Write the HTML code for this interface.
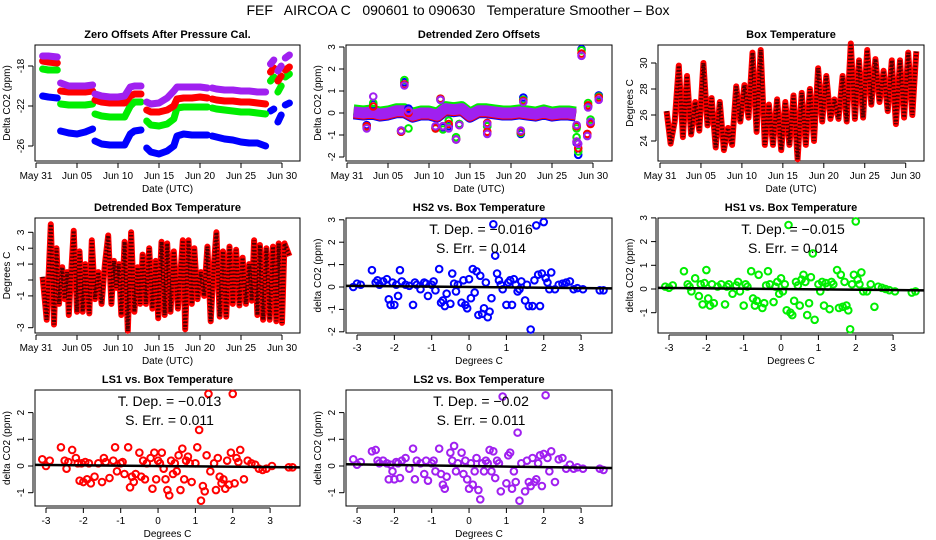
<!DOCTYPE html>
<html><head><meta charset="utf-8"><style>
html,body{margin:0;padding:0;background:#fff}
svg{display:block;font-family:"Liberation Sans",sans-serif}
</style></head><body>
<svg id="chart" width="936" height="540" viewBox="0 0 936 540" xmlns="http://www.w3.org/2000/svg">
<text x="458" y="15" font-size="14" text-anchor="middle" xml:space="preserve">FEF   AIRCOA C   090601 to 090630   Temperature Smoother – Box</text>
</svg>
<script>
// ---------- data ----------
const dateTicks=[0,5,10,15,20,25,30];
const dateLabels=["May 31","Jun 05","Jun 10","Jun 15","Jun 20","Jun 25","Jun 30"];
const zTimes=[0.8,1.5,2.6,null,3.0,4,5,6,6.9,null,7.2,8,9,10,10.8,11.5,12,12.8,null,13.5,14,15,16,16.8,17.2,18,19,20,20.9,null,21.5,22,23,24,25,26,27,28.0,null,28.6,29.0,null,29.5,29.9,null,30.4,30.9];
const zHS2=[-21,-21.1,-21.2,null,-24.5,-24.7,-24.8,-24.6,-24.3,null,-25.5,-25.8,-25.9,-25.9,-25.9,-24.8,-24.5,-24.4,null,-26.2,-26.6,-26.8,-26.5,-26.0,-25.0,-24.8,-24.9,-24.9,-24.9,null,-25.0,-25.1,-25.3,-25.4,-25.6,-25.7,-25.7,-26.0,null,-22.5,-22.3,null,-23.6,-22.9,null,-21.9,-21.7];
const zHS1=[-18.3,-18.4,-18.4,null,-21.8,-21.9,-21.9,-21.9,-21.8,null,-22.8,-23.0,-23.1,-23.1,-23.1,-22.0,-21.6,-21.6,null,-23.5,-23.9,-24.0,-23.8,-23.3,-22.2,-22.1,-22.1,-22.1,-22.1,null,-22.2,-22.3,-22.4,-22.5,-22.6,-22.6,-22.7,-22.8,null,-19.5,-19.1,null,-20.6,-20.0,null,-19.1,-18.8];
const zLS1=[-17.5,-17.6,-17.7,null,-20.5,-20.6,-20.6,-20.6,-20.5,null,-21.4,-21.6,-21.7,-21.7,-21.7,-21.0,-20.8,-20.8,null,-22.4,-22.6,-22.6,-22.4,-22.0,-21.3,-21.2,-21.2,-21.1,-21.2,null,-21.3,-21.4,-21.5,-21.5,-21.6,-21.6,-21.7,-21.8,null,-18.6,-18.2,null,-19.5,-19.0,null,-18.4,-18.1];
const zLS2=[-17.0,-17.0,-17.1,null,-19.7,-20.0,-20.0,-20.0,-19.9,null,-20.8,-21.0,-21.1,-21.1,-21.0,-20.1,-20.0,-20.0,null,-21.6,-21.8,-21.7,-21.2,-20.5,-20.1,-20.1,-20.1,-20.1,-20.2,null,-20.2,-20.3,-20.4,-20.4,-20.5,-20.5,-20.6,-20.6,null,-17.8,-17.4,null,-18.5,-18.0,null,-17.2,-16.9];
const dTimes=[0.8,2,3,4,5,6,7,8,9,10,11,12,13,14,15,16,17,18,19,20,21,22,23,24,25,26,27,27.9];
const dBand=[0.05,0.0,0.05,-0.05,0.0,0.1,0.1,-0.1,0.0,0.0,-0.1,0.2,0.15,0.2,-0.1,0.1,0.1,0.05,0.0,0.0,0.05,0.0,-0.05,0.05,-0.05,0.0,0.0,-0.05];
const spikeTimes=[2.4,3.2,6.6,7.0,7.5,10.8,11.4,11.7,12.4,13.3,13.7,17.1,17.1,21.2,21.5,28.0,28.2,28.0,28.6,29.3,29.7,30.7,29.4];
const spikeHS2=[-0.55,0.4,-0.8,1.4,0.2,-0.65,0.6,-0.65,-0.6,-1.2,-0.5,-0.9,-0.6,-0.95,0.7,-1.35,-1.9,-0.6,2.9,-1.0,-0.45,0.8,0.3];
const spikeHS1=[-0.65,0.45,-0.85,1.5,-0.7,-0.7,0.65,-0.75,-0.35,-1.1,-0.5,-0.9,-0.6,-0.9,0.6,-1.1,-1.75,-0.7,2.85,-1.0,-0.3,0.75,0.45];
const spikeLS1=[-0.6,0.3,-0.85,1.3,0.0,-0.7,0.65,-0.6,-0.5,-1.2,-0.55,-0.85,-0.45,-0.85,0.55,-1.3,-1.6,-0.6,2.7,-0.95,-0.5,0.7,0.35];
const spikeLS2=[-0.7,0.75,-0.8,1.25,0.1,-0.6,0.6,-0.6,-0.7,-1.2,-0.55,-0.95,-0.5,-0.8,0.5,-1.3,-1.4,-0.55,2.6,-1.05,-0.4,0.6,0.25];
const boxT0=0.8, boxDt=0.5;
const boxTemp=[26.3,23.8,25.5,29.8,24.3,29.0,24.5,27.0,24.8,30.0,25.2,27.3,23.5,27.0,23.3,25.0,23.7,28.2,25.5,28.3,25.8,30.8,24.7,31.0,23.7,26.8,23.7,27.2,23.3,27.0,23.7,27.5,22.6,27.7,23.7,28.0,24.0,29.6,25.5,29.0,25.7,27.2,25.7,29.0,25.5,31.5,25.7,30.2,25.8,31.0,26.8,30.3,27.0,29.4,26.3,30.2,25.3,30.2,25.8,30.8,26.0,30.9];
const dbTimes=[0.8,1.3,1.6,1.8,2.2,2.5,2.8,3.2,3.5,3.8,4.0,4.3,4.6,5.0,5.3,5.7,6.0,6.5,6.8,7.2,7.6,8.0,8.4,8.8,9.2,9.5,9.8,10.1,10.4,10.8,11.2,11.6,12.0,12.4,12.7,13.0,13.4,13.8,14.2,14.6,14.9,15.3,15.7,16.0,16.4,16.8,17.3,17.9,18.2,18.6,19.0,19.3,19.7,20.1,20.5,20.9,21.3,21.7,22.0,22.4,22.8,23.2,23.6,24.0,24.4,24.8,25.2,25.6,26.0,26.3,26.6,27.0,27.3,27.7,28.1,28.5,28.9,29.3,29.6,29.8,30.0,30.3,30.9];
const dbVals=[0.2,-2.5,1.0,3.5,-2.8,2.0,-1.5,0.8,-1.2,0.5,-2.2,0.6,3.1,-2.0,1.8,-2.0,1.0,-2.1,2.5,-1.2,0.5,-1.5,1.0,2.8,-1.5,1.2,-0.5,1.0,-2.2,2.4,-3.2,3.0,-2.0,0.8,-1.5,1.6,-1.5,2.0,-1.8,1.2,-2.4,2.4,-2.2,2.3,-2.0,1.8,-1.8,2.5,-3.1,2.5,-1.5,2.0,-1.2,0.5,-1.0,2.1,-2.6,1.0,3.0,-2.3,1.8,-2.3,2.1,-1.5,1.9,-1.6,1.4,-1.5,1.0,-1.3,2.5,-2.2,2.2,-2.5,2.0,-2.5,2.1,-2.6,2.3,-0.8,-2.7,2.3,1.5];
const xTemp=[-3.1,-3.0,-2.9,-2.6,-2.5,-2.45,-2.4,-2.3,-2.2,-2.15,-2.1,-2.05,-2.0,-1.95,-1.9,-1.85,-1.8,-1.7,-1.6,-1.5,-1.45,-1.4,-1.3,-1.2,-1.15,-1.1,-1.0,-0.95,-0.9,-0.8,-0.75,-0.7,-0.65,-0.6,-0.5,-0.45,-0.4,-0.35,-0.3,-0.2,-0.15,-0.1,-0.05,0.0,0.05,0.1,0.15,0.2,0.25,0.3,0.35,0.4,0.45,0.5,0.55,0.6,0.65,0.7,0.75,0.8,0.85,0.9,1.0,1.05,1.1,1.15,1.2,1.25,1.3,1.35,1.4,1.5,1.55,1.6,1.65,1.7,1.75,1.8,1.85,1.9,1.95,2.0,2.05,2.1,2.15,2.2,2.3,2.4,2.5,2.6,2.7,2.8,2.9,3.05,3.5,3.6];
const yHS2=[0.0,0.15,0.1,0.75,0.2,0.3,0.1,0.25,0.35,-0.55,-0.8,0.2,-0.8,0.1,-0.4,0.75,0.25,0.1,0.05,-0.8,0.2,0.1,-0.1,0.2,0.15,-0.4,0.1,0.25,-0.15,0.8,-0.7,-0.6,-0.85,-0.3,-0.75,0.6,0.15,-0.2,0.1,-0.7,0.3,-0.8,-0.95,0.35,-0.5,0.8,-0.25,0.7,-1.25,0.5,-1.2,-0.95,0.2,-1.35,-1.1,-0.5,2.8,1.4,0.6,0.3,0.1,-0.1,-0.8,0.2,0.3,-0.8,0.35,0.1,-0.2,-0.1,0.25,-0.6,0.1,-0.85,-1.9,-0.85,0.3,2.75,0.55,-0.85,0.6,2.9,0.4,0.2,-0.1,0.65,-0.1,0.1,0.15,0.2,0.25,-0.1,-0.05,-0.1,-0.15,-0.15];
const yHS1=[0.1,0.05,0.15,0.75,0.2,0.1,-0.1,0.45,-0.3,0.2,-0.65,0.25,0.8,-0.4,-0.7,0.2,-0.6,0.1,0.2,-0.65,0.1,0.2,-0.2,0.15,0.3,-0.1,-0.7,0.2,0.1,0.75,-0.4,-0.7,-0.5,0.6,-0.8,-0.6,0.15,0.75,0.2,-0.55,0.1,0.3,-0.2,0.45,-0.1,0.2,-0.9,2.7,-1.0,-1.1,-0.5,0.3,0.15,-0.7,0.4,0.6,0.3,-1.1,-0.6,0.5,1.5,-1.3,0.2,-0.1,0.3,-0.7,0.25,0.1,-0.85,0.3,0.2,0.8,-0.8,0.6,-0.75,0.3,-0.7,-0.9,-1.7,0.2,0.6,2.85,0.4,0.2,0.7,-0.1,-0.1,0.2,-0.75,0.1,0.05,0.0,-0.05,-0.1,-0.15,-0.1];
const yLS1=[0.25,0.0,0.2,0.7,0.2,-0.1,0.15,0.6,0.3,0.1,-0.55,0.1,-0.6,0.15,-0.5,0.1,-0.65,-0.4,0.1,-0.6,0.3,0.15,-0.45,0.2,0.7,-0.2,0.1,0.15,-0.3,0.7,-0.8,-0.4,-0.6,-0.3,0.5,-0.4,0.2,-0.5,0.1,0.3,-0.85,0.5,-0.5,0.2,0.1,0.5,-0.1,-0.5,-0.9,-1.1,0.2,-0.3,0.1,-0.2,0.4,-0.9,0.65,-0.5,0.2,0.35,0.1,-0.6,0.1,0.7,1.35,-1.3,-0.75,-0.95,0.4,2.7,-0.2,0.1,-0.9,0.3,-0.4,-0.65,-0.5,-0.85,0.2,-0.7,0.5,2.7,-0.65,0.3,0.15,0.6,-0.5,0.2,0.1,0.05,-0.1,-0.15,-0.1,0.0,-0.05,-0.05];
const yLS2=[0.25,0.05,0.15,0.55,0.6,0.2,0.1,0.2,0.1,-0.5,0.05,-0.2,-0.5,0.15,0.1,-0.45,0.2,0.3,-0.1,0.65,-0.5,0.2,0.1,-0.3,0.2,-0.55,0.1,0.2,-0.2,0.65,-0.3,-0.7,-0.85,-0.4,0.5,0.2,0.75,-0.2,0.1,0.5,-0.3,0.2,-0.5,-0.85,0.1,-0.7,-0.2,0.3,-0.9,-1.25,0.1,-0.2,0.2,0.1,0.6,-0.2,0.55,-0.45,0.2,0.1,-0.95,2.6,-0.65,0.4,0.5,-0.85,-0.2,-0.6,1.25,-1.3,0.1,-0.95,0.2,-0.6,-0.75,0.3,-0.6,-0.5,0.1,0.4,-0.75,0.45,2.65,0.3,-0.2,0.55,-0.6,0.25,0.3,-0.1,0.05,-0.1,-0.05,-0.1,-0.1,-0.15];
const slopes=[-0.016,-0.015,-0.013,-0.02];
const errs=[0.014,0.014,0.011,0.011];

// ---------- helpers ----------
const NS="http://www.w3.org/2000/svg";
const svg=document.getElementById('chart');
function mk(tag,attrs,parent){const e=document.createElementNS(NS,tag);for(const k in attrs)e.setAttribute(k,attrs[k]);(parent||svg).appendChild(e);return e;}
const L=[35,346,658],R=[300,612,924],T=[45,218,390],B=[161,333,506];
const tick0=[36,347,660];
function xT(c,t){return tick0[c]+t*8.2;}

function frame(c,r,name,title,xlab,ylab){
  const g=mk('g',{});
  
  
  const rc=mk('rect',{x:L[c],y:T[r],width:R[c]-L[c],height:B[r]-T[r],fill:'none',stroke:'#000','stroke-width':1},g);
  
  
  const tt=mk('text',{x:(L[c]+R[c])/2,y:T[r]-7,'font-size':11,'font-weight':'bold','text-anchor':'middle'},g);
  tt.textContent=title;
  
  
  const xl=mk('text',{x:(L[c]+R[c])/2,y:B[r]+31,'font-size':10,'text-anchor':'middle'},g);
  xl.textContent=xlab;
  
  
  const cy=(T[r]+B[r])/2, lx=L[c]-25;
  const yl=mk('text',{x:lx,y:cy,'font-size':10,'text-anchor':'middle',transform:`rotate(-90 ${lx} ${cy})`},g);
  yl.textContent=ylab;
  
  
  return g;
}
function xAxis(g,r,vals,labels,fx){
  const y=B[r]+2;
  const a=mk('line',{x1:fx(vals[0]),x2:fx(vals[vals.length-1]),y1:y,y2:y,stroke:'#000'},g);
  
  
  vals.forEach((v,i)=>{
    const x=fx(v);
    const tk=mk('line',{x1:x,x2:x,y1:y,y2:y+5,stroke:'#000'},g);
    
    
    const tx=mk('text',{x:x,y:y+16,'font-size':10,'text-anchor':'middle'},g);
    tx.textContent=labels[i];
    
    
  });
}
function yAxis(g,c,vals,labels,fy){
  const x=L[c]-2;
  const a=mk('line',{x1:x,x2:x,y1:fy(vals[0]),y2:fy(vals[vals.length-1]),stroke:'#000'},g);
  
  
  vals.forEach((v,i)=>{
    const y=fy(v);
    const tk=mk('line',{x1:x-5,x2:x,y1:y,y2:y,stroke:'#000'},g);
    
    
    const tx=mk('text',{x:x-9,y:y,'font-size':10,'text-anchor':'middle',transform:`rotate(-90 ${x-9} ${y})`},g);
    tx.textContent=labels[i];
    
    
  });
}
function pathFrom(times,vals,fx,fy){
  let d='',pen=false;
  for(let i=0;i<times.length;i++){
    if(vals[i]===null||times[i]===null){pen=false;continue;}
    d+=(pen?'L':'M')+fx(times[i]).toFixed(1)+' '+fy(vals[i]).toFixed(1)+' ';pen=true;
  }
  return d;
}
function circles(g,xs,ys,fx,fy,color,name){
  for(let i=0;i<xs.length;i++){
    if(xs[i]===null||ys[i]===null)continue;
    const c=mk('circle',{cx:fx(xs[i]),cy:fy(ys[i]),r:3.3,fill:'none',stroke:color,'stroke-width':2},g);
    
    
  }
}
const colHS2='#0000ff',colHS1='#00ee00',colLS1='#ff0000',colLS2='#a020f0';

// ---------- Panel 1 ----------
{
  const c=0,r=0;
  const g=frame(c,r,'zero-offsets-panel','Zero Offsets After Pressure Cal.','Date (UTC)','Delta CO2 (ppm)');
  const fx=t=>xT(c,t), fy=v=>66+(-18-v)*10;
  xAxis(g,r,dateTicks,dateLabels,fx);
  yAxis(g,c,[-18,-22,-26],["-18","-22","-26"],fy);
  [[zHS2,colHS2,'hs2'],[zHS1,colHS1,'hs1'],[zLS1,colLS1,'ls1'],[zLS2,colLS2,'ls2']].forEach(([vals,col,nm])=>{
    const p=mk('path',{d:pathFrom(zTimes,vals,fx,fy),fill:'none',stroke:col,'stroke-width':7,'stroke-linejoin':'round','stroke-linecap':'round'},g);
    
    
  });
}
// ---------- Panel 2 ----------
{
  const c=1,r=0;
  const g=frame(c,r,'detrended-zero-offsets-panel','Detrended Zero Offsets','Date (UTC)','Delta CO2 (ppm)');
  const fx=t=>xT(c,t), fy=v=>47+(3-v)*22;
  xAxis(g,r,dateTicks,dateLabels,fx);
  yAxis(g,c,[3,2,1,0,-1,-2],["3","2","1","0","-1","-2"],fy);
  [[colHS2,2,'hs2'],[colHS1,-2,'hs1'],[colLS1,1,'ls1'],[colLS2,0,'ls2']].forEach(([col,off,nm])=>{
    const p=mk('path',{d:pathFrom(dTimes,dBand,t=>fx(t),v=>fy(v)+off),fill:'none',stroke:col,'stroke-width':11,'stroke-linejoin':'round'},g);
    
    
  });
  circles(g,spikeTimes,spikeHS2,fx,fy,colHS2,'spike-hs2');
  circles(g,spikeTimes,spikeHS1,fx,fy,colHS1,'spike-hs1');
  circles(g,spikeTimes,spikeLS1,fx,fy,colLS1,'spike-ls1');
  circles(g,spikeTimes,spikeLS2,fx,fy,colLS2,'spike-ls2');
}
// ---------- Panel 3 ----------
{
  const c=2,r=0;
  const g=frame(c,r,'box-temperature-panel','Box Temperature','Date (UTC)','Degrees C');
  const fx=t=>xT(c,t)-0.3*(t/30), fy=v=>63+(30-v)*13;
  xAxis(g,r,dateTicks,dateLabels,t=>xT(c,t)-0.3*(t/30));
  yAxis(g,c,[30,28,26,24],["30","28","26","24"],fy);
  const bt=boxTemp.map((v,i)=>boxT0+i*boxDt);
  const d=pathFrom(bt,boxTemp,fx,fy);
  const p=mk('path',{d:d,fill:'none',stroke:'#ff0000','stroke-width':6,'stroke-linejoin':'round'},g);
  
  
  const p2=mk('path',{d:d,fill:'none',stroke:'#000','stroke-width':4,'stroke-dasharray':'1.5 2','stroke-opacity':0.7},g);
  
  
}
// ---------- Panel 4 ----------
{
  const c=0,r=1;
  const g=frame(c,r,'detrended-box-temperature-panel','Detrended Box Temperature','Date (UTC)','Degrees C');
  const fx=t=>xT(c,t), fy=v=>280-v*15.9;
  xAxis(g,r,dateTicks,dateLabels,fx);
  yAxis(g,c,[3,2,1,0,-1,-3],["3","2","1","","-1","-3"],fy);
  const d=pathFrom(dbTimes,dbVals,fx,fy);
  const p=mk('path',{d:d,fill:'none',stroke:'#ff0000','stroke-width':6,'stroke-linejoin':'round'},g);
  
  
  const p2=mk('path',{d:d,fill:'none',stroke:'#000','stroke-width':4,'stroke-dasharray':'1.5 2','stroke-opacity':0.7},g);
  
  
}
// ---------- scatter panels ----------
function scatter(c,r,name,title,ys,col,slope,err,y0,ppu,yticks){
  const g=frame(c,r,name,title,'Degrees C','delta CO2 (ppm)');
  const fx=v=>L[c]+11+(v+3)*37.35, fy=v=>y0-v*ppu;
  xAxis(g,r,[-3,-2,-1,0,1,2,3],["-3","-2","-1","0","1","2","3"],fx);
  yAxis(g,c,yticks,yticks.map(String),fy);
  circles(g,xTemp,ys,fx,fy,col,'scatter-point');
  const ln=mk('line',{x1:L[c],x2:R[c],y1:fy(slope*(-3.3)),y2:fy(slope*3.85),stroke:'#000','stroke-width':2.5},g);
  
  
  const cx=(L[c]+R[c])/2+2;
  const t1=mk('text',{x:cx,y:T[r]+16,'font-size':14,'text-anchor':'middle'},g);
  t1.textContent='T. Dep. =  '+String(slope).replace('-','\u2212');
  
  
  const t2=mk('text',{x:cx,y:T[r]+35,'font-size':14,'text-anchor':'middle'},g);
  t2.textContent='S. Err. =  '+err;
  
  
}
scatter(1,1,'hs2-scatter-panel','HS2 vs. Box Temperature',yHS2,colHS2,slopes[0],errs[0],287,22.4,[3,2,1,0,-1,-2]);
scatter(2,1,'hs1-scatter-panel','HS1 vs. Box Temperature',yHS1,colHS1,slopes[1],errs[1],289,23.7,[3,2,1,0,-1]);
scatter(0,2,'ls1-scatter-panel','LS1 vs. Box Temperature',yLS1,colLS1,slopes[2],errs[2],466,26.7,[2,1,0,-1]);
scatter(1,2,'ls2-scatter-panel','LS2 vs. Box Temperature',yLS2,colLS2,slopes[3],errs[3],466,26.7,[2,1,0,-1]);
</script>
</body></html>
